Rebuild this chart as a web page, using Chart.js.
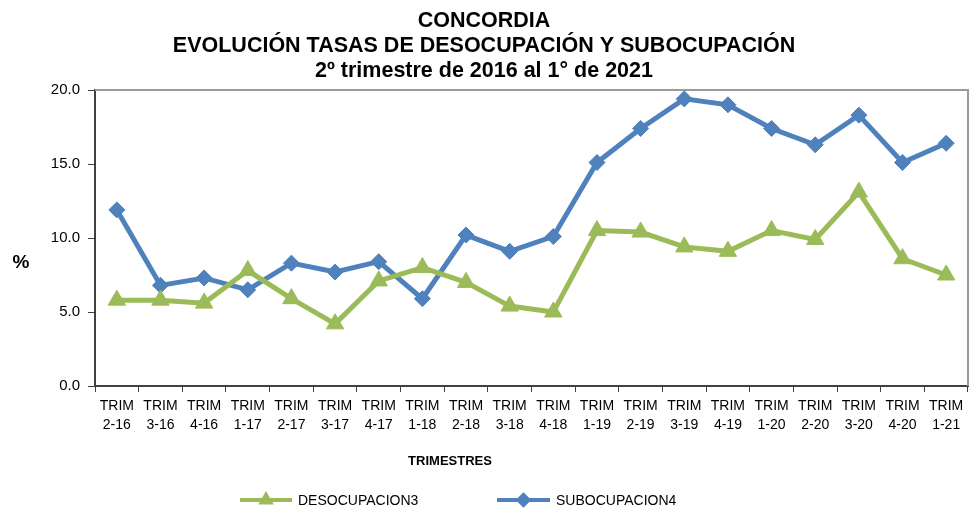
<!DOCTYPE html>
<html>
<head>
<meta charset="utf-8">
<script src="https://cdn.jsdelivr.net/npm/chart.js@4.4.1/dist/chart.umd.min.js"></script>
<style>
  html, body { margin: 0; padding: 0; background: #ffffff; overflow: hidden; }
  #wrap { width: 969px; height: 508px; position: relative; }
  canvas { display: block; }
</style>
</head>
<body>
<div id="wrap"><canvas id="c" width="969" height="508"></canvas></div>
<script>
// ---- Data ----
const quarters = ['2-16','3-16','4-16','1-17','2-17','3-17','4-17','1-18','2-18','3-18','4-18','1-19','2-19','3-19','4-19','1-20','2-20','3-20','4-20','1-21'];
const categories = quarters.map(q => ['TRIM', q]);
const desocupacion = [5.8, 5.8, 5.6, 7.8, 5.9, 4.2, 7.1, 8.0, 7.0, 5.4, 5.0, 10.5, 10.4, 9.4, 9.1, 10.5, 9.9, 13.1, 8.6, 7.5];
const subocupacion = [11.9, 6.8, 7.3, 6.5, 8.3, 7.7, 8.4, 5.9, 10.2, 9.1, 10.1, 15.1, 17.4, 19.4, 19.0, 17.4, 16.3, 18.3, 15.1, 16.4];
const seriesNames = ['DESOCUPACION3', 'SUBOCUPACION4'];
const titleLines = ['CONCORDIA', 'EVOLUCIÓN TASAS DE DESOCUPACIÓN Y SUBOCUPACIÓN', '2º trimestre de 2016 al 1° de 2021'];
const yAxisTitle = '%';
const xAxisTitle = 'TRIMESTRES';

const GREEN = '#9BBB59';
const BLUE = '#4F81BD';
const FONT = '"Liberation Sans", Arial, Helvetica, sans-serif';

const extras = {
  id: 'extras',
  beforeDraw(chart) {
    const ctx = chart.ctx;
    ctx.save();
    ctx.fillStyle = '#ffffff';
    ctx.fillRect(0, 0, chart.width, chart.height);
    ctx.restore();
  },
  beforeDatasetsDraw(chart) {
    const a = chart.chartArea, ctx = chart.ctx;
    ctx.save();
    ctx.strokeStyle = '#9a9a9a';
    ctx.lineWidth = 2;
    ctx.beginPath();
    ctx.moveTo(a.left, a.top);
    ctx.lineTo(a.right, a.top);
    ctx.lineTo(a.right, a.bottom);
    ctx.stroke();
    ctx.restore();
  },
  afterDraw(chart) {
    const ctx = chart.ctx;
    ctx.save();
    ctx.fillStyle = '#000000';
    ctx.textBaseline = 'middle';
    ctx.textAlign = 'center';
    ctx.font = 'bold 19px ' + FONT;
    ctx.fillText(yAxisTitle, 21, 263);
    ctx.font = 'bold 13px ' + FONT;
    ctx.fillText(xAxisTitle, 450, 461);
    // legend
    const items = [
      { ds: chart.data.datasets[0], x0: 240, x1: 292, tx: 298 },
      { ds: chart.data.datasets[1], x0: 497, x1: 550, tx: 556 }
    ];
    const ly = 500;
    items.forEach(it => {
      ctx.strokeStyle = it.ds.borderColor;
      ctx.lineWidth = 4;
      ctx.beginPath();
      ctx.moveTo(it.x0, ly);
      ctx.lineTo(it.x1, ly);
      ctx.stroke();
      Chart.helpers.drawPoint(ctx, {
        pointStyle: it.ds.pointStyle, radius: 5, rotation: 0, borderWidth: 1
      }, (it.x0 + it.x1) / 2, ly);
      ctx.fillStyle = it.ds.borderColor;
      ctx.fill();
      ctx.fillStyle = '#000000';
      ctx.textAlign = 'left';
      ctx.font = '14px ' + FONT;
      ctx.fillText(it.ds.label, it.tx, ly + 1);
    });
    ctx.restore();
  }
};

new Chart(document.getElementById('c'), {
  type: 'line',
  data: {
    labels: categories,
    datasets: [
      {
        label: seriesNames[0],
        data: desocupacion,
        borderColor: GREEN,
        backgroundColor: GREEN,
        pointBackgroundColor: GREEN,
        pointBorderColor: GREEN,
        borderWidth: 5,
        pointStyle: 'triangle',
        pointRadius: 10,
        pointBorderWidth: 1,
        tension: 0,
        fill: false
      },
      {
        label: seriesNames[1],
        data: subocupacion,
        borderColor: BLUE,
        backgroundColor: BLUE,
        pointBackgroundColor: BLUE,
        pointBorderColor: BLUE,
        borderWidth: 5,
        pointStyle: 'rectRot',
        pointRadius: 8,
        pointBorderWidth: 1,
        tension: 0,
        fill: false
      }
    ]
  },
  options: {
    responsive: false,
    animation: false,
    devicePixelRatio: 1,
    layout: { autoPadding: false, padding: { left: 0, right: 1, top: 0, bottom: 72 } },
    plugins: {
      legend: { display: false },
      tooltip: { enabled: false },
      title: {
        display: true,
        text: titleLines,
        color: '#000000',
        font: { family: FONT, size: 21.5, weight: 'bold', lineHeight: '25px' },
        padding: { top: 9, bottom: 6 }
      }
    },
    scales: {
      x: {
        type: 'category',
        offset: true,
        afterFit(scale) { scale.height = 50; scale.paddingRight = 0; scale.paddingLeft = 0; },
        grid: {
          display: true,
          offset: true,
          drawOnChartArea: false,
          drawTicks: true,
          tickLength: 6,
          color: '#404040',
          lineWidth: 1
        },
        border: { display: true, color: '#404040', width: 2 },
        ticks: {
          color: '#000000',
          font: { family: FONT, size: 14, lineHeight: 1.38 },
          maxRotation: 0,
          minRotation: 0,
          autoSkip: false,
          padding: 4
        }
      },
      y: {
        min: 0,
        max: 20,
        afterFit(scale) { scale.width = 95; },
        grid: {
          display: true,
          drawOnChartArea: false,
          drawTicks: true,
          tickLength: 7,
          color: '#404040',
          lineWidth: 1
        },
        border: { display: true, color: '#404040', width: 2 },
        ticks: {
          stepSize: 5,
          color: '#000000',
          font: { family: FONT, size: 15 },
          padding: 8,
          callback: v => Number(v).toFixed(1)
        }
      }
    }
  },
  plugins: [extras]
});
</script>
</body>
</html>
